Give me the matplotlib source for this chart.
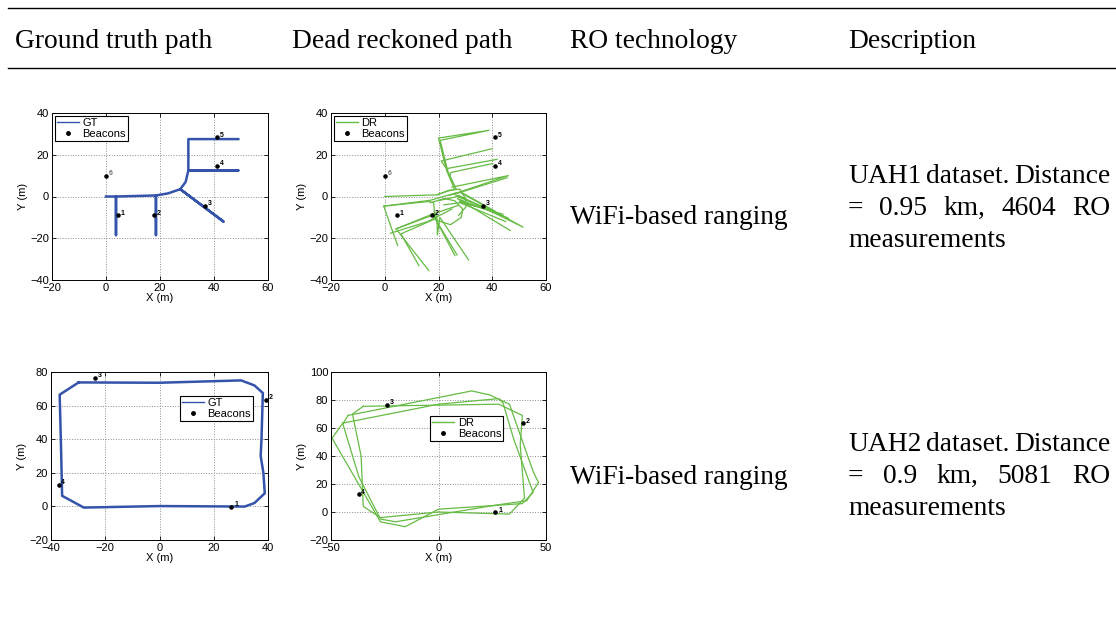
import matplotlib
matplotlib.use('Agg')
import matplotlib.pyplot as plt
from matplotlib.lines import Line2D

W, H = 1116, 619

# ---- table text ----
headers = ['Ground truth path', 'Dead reckoned path', 'RO technology', 'Description']
header_x = [15, 292, 570, 848]
technology = ['WiFi-based ranging', 'WiFi-based ranging']
descriptions = [
    [['UAH1', 'dataset.', 'Distance'], ['=', '0.95', 'km,', '4604', 'RO'], ['measurements']],
    [['UAH2', 'dataset.', 'Distance'], ['=', '0.9', 'km,', '5081', 'RO'], ['measurements']],
]

# ---- UAH1 ----
uah1_beacon_x = [4.5, 17.7, 36.7, 41.2, 41.2, 0.0]
uah1_beacon_y = [-9.1, -9.1, -4.5, 14.7, 28.3, 9.8]
uah1_beacon_id = ['1', '2', '3', '4', '5', '6']

uah1_gt_x = [0.0, 3.7, 3.7, 3.7, 18.5, 18.5, 18.5, 23.0, 27.5, 43.5, 27.5, 29.5, 30.5, 49.0, 30.5, 30.5, 49.0]
uah1_gt_y = [0.0, 0.0, -18.5, 0.0, 0.5, -18.5, 0.5, 1.5, 3.5, -12.0, 3.5, 7.0, 12.5, 12.5, 12.5, 27.5, 27.5]

uah1_dr = [
    ([0.0, 19.4, 23.0, 26.0], [0.0, 0.8, 2.4, 3.4]),
    ([4.8, -0.4, 16.4, 18.2, 18.6], [-23.5, -4.6, -2.4, -3.0, -9.5]),
    ([-0.4, 17.0, 26.7], [-4.6, -1.8, 1.8]),
    ([16.4, 4.2, 15.8, 18.2, 26.1], [-35.5, -15.5, -9.9, -9.1, -28.3]),
    ([4.2, 17.6, 27.3], [-15.5, -8.5, -4.3]),
    ([12.7, 6.0, 18.8, 26.9], [-33.1, -17.9, -10.7, -28.0]),
    ([2.1, 16.0, 25.0], [-17.6, -12.0, -6.0]),
    ([19.4, 19.6, 20.5, 31.2], [-9.1, -18.5, -10.0, -30.4]),
    ([17.0, 22.0, 26.0, 29.0, 28.5, 24.5, 19.5, 18.8], [-3.0, -1.0, -2.0, -6.0, -10.0, -13.5, -11.5, -9.1]),
    ([19.4, 24.0, 28.0, 30.0, 30.2, 27.5], [0.8, 3.0, 3.5, -1.0, -5.0, -9.0]),
    ([26.0, 23.0, 20.0, 38.8, 20.6, 23.5, 26.5], [3.4, 12.5, 28.0, 31.7, 26.9, 12.0, 3.8]),
    ([22.6, 21.0, 40.0], [14.0, 17.0, 22.9]),
    ([23.2, 23.6, 41.8], [12.5, 13.5, 17.8]),
    ([24.2, 24.6, 40.2], [10.0, 11.5, 15.8]),
    ([25.0, 46.0, 24.0], [4.5, 10.0, 0.5]),
    ([27.0, 45.5], [1.5, 9.0]),
    ([26.0, 46.0, 27.0, 46.7], [1.0, -10.4, -1.0, -16.3]),
    ([27.5, 51.5, 28.0], [0.5, -14.7, 2.0]),
    ([28.5, 41.0, 27.8, 44.0], [2.0, -7.0, -2.5, -8.5]),
    ([20.0, 27.0, 41.2], [-2.0, 0.0, -7.5]),
    ([22.0, 28.0, 45.0], [-4.0, -3.0, -12.0]),
]

# ---- UAH2 ----
uah2_beacon_x = [26.5, 39.3, -23.8, -37.2]
uah2_beacon_y = [-0.3, 63.3, 76.4, 12.7]
uah2_beacon_id = ['1', '2', '3', '4']

uah2_gt_x = [-29.8, 0.0, 30.1, 35.0, 38.1, 37.6, 37.3, 38.3, 38.8, 35.0, 31.4, 0.0, -27.9, -35.9, -36.3, -36.8, -29.8]
uah2_gt_y = [73.8, 73.6, 75.0, 72.0, 67.5, 40.0, 30.0, 20.0, 7.8, 2.0, -0.1, 0.2, -0.7, 6.3, 35.0, 66.5, 73.8]

uah2_dr = [
    ([-35.0, 28.0, 39.0, 38.0, 40.0, 33.0, 0.0, -27.0, -35.0, -36.0, -40.0, -35.0],
     [75.5, 77.0, 69.0, 48.0, 10.0, -1.5, 0.0, -4.0, 4.0, 40.0, 70.0, 75.5]),
    ([-42.0, 15.5, 24.0, 33.0, 44.0, 46.5, 41.0, 27.0, -20.0, -27.0, -37.0, -44.5, -42.0],
     [69.0, 86.5, 83.5, 77.0, 29.0, 21.0, 8.0, 5.0, -7.0, -5.0, 25.0, 63.0, 69.0]),
    ([-44.5, 0.0, 28.0, 30.0, 35.0, 44.0, 39.0, 0.0, -15.5, -27.0, -49.5, -44.5],
     [63.5, 77.0, 81.0, 78.0, 52.0, 14.0, 6.0, 2.0, -10.5, -7.0, 52.7, 63.5]),
]

gt_color = '#3454ab'
dr_color = '#66bb44'

plt.rcParams['font.family'] = ['Liberation Sans', 'DejaVu Sans']
fig = plt.figure(figsize=(W / 100, H / 100), dpi=100)


def px_axes(l, t, r, b):
    return fig.add_axes([l / W, 1 - b / H, (r - l) / W, (b - t) / H])


def style(ax, xlim, ylim, xticks, yticks):
    ax.set_xlim(xlim)
    ax.set_ylim(ylim)
    ax.set_xticks(xticks)
    ax.set_yticks(yticks)
    ax.grid(True, linestyle=':', color='0.55', lw=0.7)
    ax.tick_params(direction='in', top=True, right=True, length=3, width=0.6,
                   labelsize=8, pad=2)
    for s in ax.spines.values():
        s.set_linewidth(0.7)
    ax.set_xlabel('X (m)', fontsize=8, labelpad=0)
    ax.set_ylabel('Y (m)', fontsize=8, labelpad=2)


def beacons(ax, bx, by, ids):
    ax.plot(bx, by, '.', color='k', ms=4.5, zorder=4)
    for x, y, t in zip(bx, by, ids):
        c = '0.45' if t == '6' else 'k'
        ax.annotate(t, (x, y), xytext=(2, 0.5), textcoords='offset points',
                    fontsize=5, color=c, fontweight='bold')


def legend(ax, name, color, **kw):
    h = [Line2D([], [], color=color, lw=1),
         Line2D([], [], ls='none', marker='.', color='k', ms=5)]
    lg = ax.legend(h, [name, 'Beacons'], fontsize=8, fancybox=False, edgecolor='k',
                   framealpha=1, borderpad=0.2, labelspacing=0.1, handlelength=2.0,
                   handletextpad=0.3, borderaxespad=0.25, **kw)
    lg.get_frame().set_linewidth(0.8)


# UAH1 ground truth
ax1 = px_axes(52, 113, 268, 280)
ax1.plot(uah1_gt_x, uah1_gt_y, color=gt_color, lw=1.8)
beacons(ax1, uah1_beacon_x, uah1_beacon_y, uah1_beacon_id)
style(ax1, (-20, 60), (-40, 40), [-20, 0, 20, 40, 60], [-40, -20, 0, 20, 40])
legend(ax1, 'GT', gt_color, loc='upper left')

# UAH1 dead reckoning
ax2 = px_axes(331, 113, 546, 280)
for xs, ys in uah1_dr:
    ax2.plot(xs, ys, color=dr_color, lw=0.9)
beacons(ax2, uah1_beacon_x, uah1_beacon_y, uah1_beacon_id)
style(ax2, (-20, 60), (-40, 40), [-20, 0, 20, 40, 60], [-40, -20, 0, 20, 40])
legend(ax2, 'DR', dr_color, loc='upper left')

# UAH2 ground truth
ax3 = px_axes(51, 372, 268, 540)
ax3.plot(uah2_gt_x, uah2_gt_y, color=gt_color, lw=1.8)
beacons(ax3, uah2_beacon_x, uah2_beacon_y, uah2_beacon_id)
style(ax3, (-40, 40), (-20, 80), [-40, -20, 0, 20, 40], [-20, 0, 20, 40, 60, 80])
legend(ax3, 'GT', gt_color, loc='upper left', bbox_to_anchor=(0.58, 0.875))

# UAH2 dead reckoning
ax4 = px_axes(331, 372, 546, 540)
for xs, ys in uah2_dr:
    ax4.plot(xs, ys, color=dr_color, lw=0.9)
beacons(ax4, uah2_beacon_x, uah2_beacon_y, uah2_beacon_id)
style(ax4, (-50, 50), (-20, 100), [-50, 0, 50], [-20, 0, 20, 40, 60, 80, 100])
legend(ax4, 'DR', dr_color, loc='upper left', bbox_to_anchor=(0.447, 0.756))

# ---- table rules and text ----
for y in (8, 68):
    fig.add_artist(Line2D([8 / W, 1], [1 - y / H] * 2, transform=fig.transFigure,
                          color='k', lw=1.0))

serif = dict(family=['Liberation Serif', 'DejaVu Serif'], fontsize=19.8)
for x, t in zip(header_x, headers):
    fig.text(x / W, 1 - 48 / H, t, va='baseline', **serif)

tech_base = [224, 484]
desc_base = [[183, 215, 247], [451, 483, 515]]
for tb, t in zip(tech_base, technology):
    fig.text(570 / W, 1 - tb / H, t, va='baseline', **serif)

# justified description paragraphs
x0, x1 = 848, 1110
fig.canvas.draw()
rend = fig.canvas.get_renderer()
for lines, bases in zip(descriptions, desc_base):
    for i, (words, yb) in enumerate(zip(lines, bases)):
        arts = [fig.text(0, 1 - yb / H, w, va='baseline', **serif) for w in words]
        widths = [a.get_window_extent(rend).width for a in arts]
        if i == len(lines) - 1 or len(words) == 1:
            gap = 6.5
        else:
            gap = (x1 - x0 - sum(widths)) / (len(words) - 1)
        x = x0
        for a, w in zip(arts, widths):
            a.set_x(x / W)
            x += w + gap

fig.savefig('out.png', dpi=100)
